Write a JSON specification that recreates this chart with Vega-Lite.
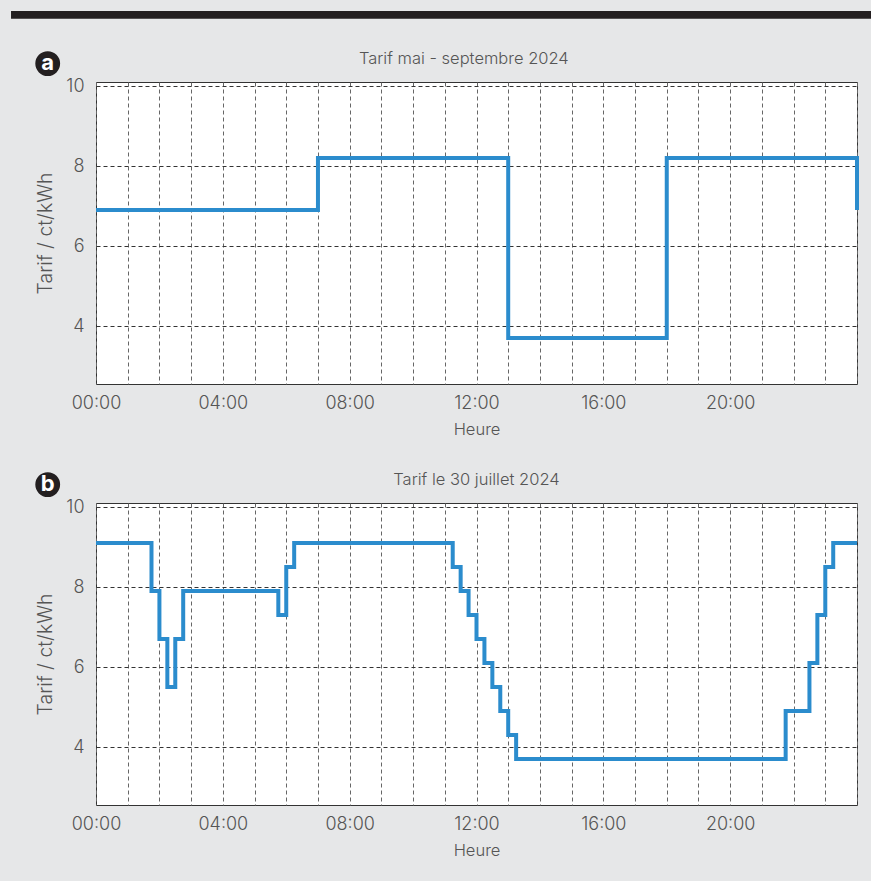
{
  "$schema": "https://vega.github.io/schema/vega-lite/v6.json",
  "background": "#e6e7e8",
  "padding": {"left": 10, "top": 10, "right": 0, "bottom": 30},
  "spacing": 119,
  "bounds": "flush",
  "config": {
    "font": "Inter",
    "view": {"stroke": "#333333", "strokeWidth": 1, "fill": "#ffffff"},
    "axis": {
      "labelFont": "Inter", "labelFontSize": 18, "labelFontWeight": 300, "labelColor": "#555555",
      "titleFont": "Inter", "titleFontSize": 16.5, "titleFontWeight": 300, "titleColor": "#555555",
      "ticks": false, "domain": false, "grid": true, "gridWidth": 1
    },
    "axisX": {"tickCount": 40, "gridColor": "#666666", "gridDash": [4, 3]},
    "axisY": {"tickCount": 10, "gridColor": "#333333", "gridDash": [4, 3], "titleFontSize": 19.5}
  },
  "datasets": {
    "a": [
      {"hour": 0, "tarif": 6.9},
      {"hour": 7, "tarif": 8.2},
      {"hour": 13, "tarif": 3.7},
      {"hour": 18, "tarif": 8.2},
      {"hour": 24, "tarif": 6.9}
    ],
    "b": [
      {"hour": 0, "tarif": 9.1},
      {"hour": 1.75, "tarif": 7.9},
      {"hour": 2, "tarif": 6.7},
      {"hour": 2.25, "tarif": 5.5},
      {"hour": 2.5, "tarif": 6.7},
      {"hour": 2.75, "tarif": 7.9},
      {"hour": 5.75, "tarif": 7.3},
      {"hour": 6, "tarif": 8.5},
      {"hour": 6.25, "tarif": 9.1},
      {"hour": 11.25, "tarif": 8.5},
      {"hour": 11.5, "tarif": 7.9},
      {"hour": 11.75, "tarif": 7.3},
      {"hour": 12, "tarif": 6.7},
      {"hour": 12.25, "tarif": 6.1},
      {"hour": 12.5, "tarif": 5.5},
      {"hour": 12.75, "tarif": 4.9},
      {"hour": 13, "tarif": 4.3},
      {"hour": 13.25, "tarif": 3.7},
      {"hour": 21.75, "tarif": 4.9},
      {"hour": 22.5, "tarif": 6.1},
      {"hour": 22.75, "tarif": 7.3},
      {"hour": 23, "tarif": 8.5},
      {"hour": 23.25, "tarif": 9.1},
      {"hour": 24, "tarif": 9.1}
    ]
  },
  "vconcat": [
    {
      "width": 761,
      "height": 302,
      "layer": [
        {
          "data": {"values": [{}]},
          "mark": {"type": "rect", "color": "#231f20"},
          "encoding": {
            "x": {"datum": -2.68, "type": "quantitative", "scale": {"domain": [0, 24], "nice": false, "zero": false}},
            "x2": {"datum": 24.47},
            "y": {"datum": 11.875, "type": "quantitative", "scale": {"domain": [2.55, 10.1], "nice": false, "zero": false}},
            "y2": {"datum": 11.68}
          }
        },
        {
          "data": {"name": "a"},
          "mark": {"type": "line", "interpolate": "step-after", "color": "#2b8ccd", "strokeWidth": 4, "strokeJoin": "miter"},
          "encoding": {
            "x": {"field": "hour", "type": "quantitative",
              "scale": {"domain": [0, 24], "nice": false, "zero": false},
              "axis": {"title": "Heure", "tickCount": 40, "values": [0,1,2,3,4,5,6,7,8,9,10,11,12,13,14,15,16,17,18,19,20,21,22,23,24],
                "labelExpr": "datum.value % 4 === 0 && datum.value < 24 ? (datum.value < 10 ? '0' : '') + datum.value + ':00' : ''",
                "labelFlush": false, "labelOverlap": false, "labelPadding": 10, "titlePadding": 9}},
            "y": {"field": "tarif", "type": "quantitative",
              "scale": {"domain": [2.55, 10.1], "nice": false, "zero": false},
              "axis": {"title": "Tarif / ct/kWh", "values": [4, 6, 8, 10], "labelPadding": 12, "titlePadding": 10}}
          }
        },
        {
          "data": {"values": [{"label": "Tarif mai - septembre 2024"}]},
          "mark": {"type": "text", "fontSize": 16.5, "fontWeight": 300, "color": "#555555", "align": "center", "baseline": "alphabetic"},
          "encoding": {
            "x": {"datum": 11.6, "type": "quantitative", "scale": {"domain": [0, 24], "nice": false, "zero": false}},
            "y": {"datum": 10.545, "type": "quantitative", "scale": {"domain": [2.55, 10.1], "nice": false, "zero": false}},
            "text": {"field": "label"}
          }
        },
        {
          "data": {"values": [{"label": "a"}]},
          "mark": {"type": "point", "filled": true, "shape": "circle", "size": 616, "color": "#231f20", "opacity": 1},
          "encoding": {
            "x": {"datum": -1.523, "type": "quantitative", "scale": {"domain": [0, 24], "nice": false, "zero": false}},
            "y": {"datum": 10.56, "type": "quantitative", "scale": {"domain": [2.55, 10.1], "nice": false, "zero": false}}
          }
        },
        {
          "data": {"values": [{"label": "a"}]},
          "mark": {"type": "text", "fontSize": 22, "fontWeight": "bold", "color": "#ffffff", "align": "center", "baseline": "middle", "dy": -1},
          "encoding": {
            "x": {"datum": -1.523, "type": "quantitative", "scale": {"domain": [0, 24], "nice": false, "zero": false}},
            "y": {"datum": 10.56, "type": "quantitative", "scale": {"domain": [2.55, 10.1], "nice": false, "zero": false}},
            "text": {"field": "label"}
          }
        }
      ]
    },
    {
      "width": 761,
      "height": 302,
      "layer": [
        {
          "data": {"name": "b"},
          "mark": {"type": "line", "interpolate": "step-after", "color": "#2b8ccd", "strokeWidth": 4, "strokeJoin": "miter"},
          "encoding": {
            "x": {"field": "hour", "type": "quantitative",
              "scale": {"domain": [0, 24], "nice": false, "zero": false},
              "axis": {"title": "Heure", "tickCount": 40, "values": [0,1,2,3,4,5,6,7,8,9,10,11,12,13,14,15,16,17,18,19,20,21,22,23,24],
                "labelExpr": "datum.value % 4 === 0 && datum.value < 24 ? (datum.value < 10 ? '0' : '') + datum.value + ':00' : ''",
                "labelFlush": false, "labelOverlap": false, "labelPadding": 10, "titlePadding": 9}},
            "y": {"field": "tarif", "type": "quantitative",
              "scale": {"domain": [2.55, 10.1], "nice": false, "zero": false},
              "axis": {"title": "Tarif / ct/kWh", "values": [4, 6, 8, 10], "labelPadding": 12, "titlePadding": 10}}
          }
        },
        {
          "data": {"values": [{"label": "Tarif le 30 juillet 2024"}]},
          "mark": {"type": "text", "fontSize": 16.5, "fontWeight": 300, "color": "#555555", "align": "center", "baseline": "alphabetic"},
          "encoding": {
            "x": {"datum": 12.0, "type": "quantitative", "scale": {"domain": [0, 24], "nice": false, "zero": false}},
            "y": {"datum": 10.545, "type": "quantitative", "scale": {"domain": [2.55, 10.1], "nice": false, "zero": false}},
            "text": {"field": "label"}
          }
        },
        {
          "data": {"values": [{"label": "b"}]},
          "mark": {"type": "point", "filled": true, "shape": "circle", "size": 616, "color": "#231f20", "opacity": 1},
          "encoding": {
            "x": {"datum": -1.523, "type": "quantitative", "scale": {"domain": [0, 24], "nice": false, "zero": false}},
            "y": {"datum": 10.56, "type": "quantitative", "scale": {"domain": [2.55, 10.1], "nice": false, "zero": false}}
          }
        },
        {
          "data": {"values": [{"label": "b"}]},
          "mark": {"type": "text", "fontSize": 22, "fontWeight": "bold", "color": "#ffffff", "align": "center", "baseline": "middle", "dy": -1},
          "encoding": {
            "x": {"datum": -1.523, "type": "quantitative", "scale": {"domain": [0, 24], "nice": false, "zero": false}},
            "y": {"datum": 10.56, "type": "quantitative", "scale": {"domain": [2.55, 10.1], "nice": false, "zero": false}},
            "text": {"field": "label"}
          }
        }
      ]
    }
  ]
}
